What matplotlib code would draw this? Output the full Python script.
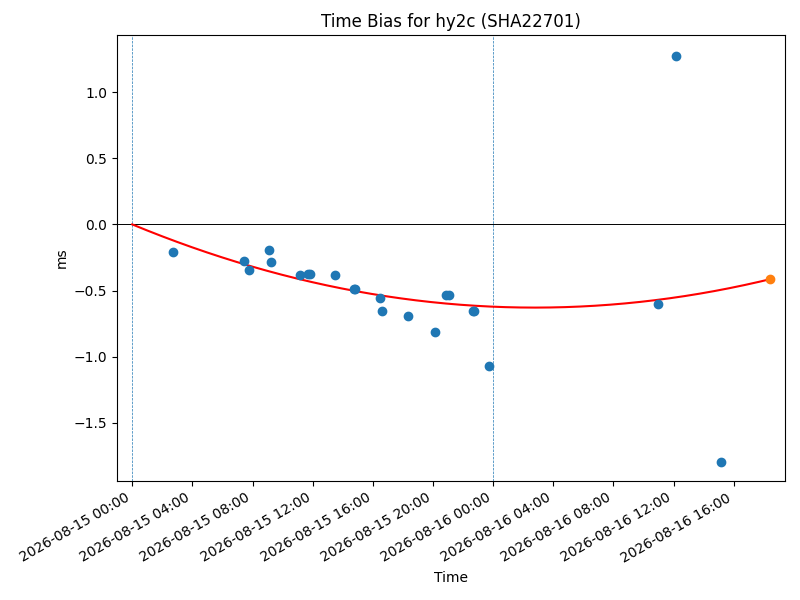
import matplotlib
matplotlib.use("Agg")
import matplotlib.pyplot as plt
import matplotlib.dates as mdates
import numpy as np
import pandas as pd

times = ["2026-08-15 02:42", "2026-08-15 07:24", "2026-08-15 07:46", "2026-08-15 09:07",
         "2026-08-15 09:14", "2026-08-15 11:09", "2026-08-15 11:40", "2026-08-15 11:49",
         "2026-08-15 13:30", "2026-08-15 14:46", "2026-08-15 14:50", "2026-08-15 16:29",
         "2026-08-15 16:36", "2026-08-15 18:21", "2026-08-15 20:09", "2026-08-15 20:51",
         "2026-08-15 21:03", "2026-08-15 22:39", "2026-08-15 22:45", "2026-08-15 23:44",
         "2026-08-16 10:58", "2026-08-16 12:10", "2026-08-16 15:09"]
bias_ms = [-0.207, -0.275, -0.343, -0.197, -0.286, -0.381, -0.373, -0.373,
           -0.386, -0.492, -0.492, -0.553, -0.654, -0.689, -0.811, -0.533,
           -0.533, -0.654, -0.654, -1.070, -0.598, 1.273, -1.795]
pred_time = "2026-08-16 18:25"
fit_start = "2026-08-15 00:00"
fit_coef = [0.000877, -0.04697, 0.0]  # quadratic in hours since fit_start
midnights = ["2026-08-15 00:00", "2026-08-16 00:00"]
xlim = ["2026-08-14 23:00", "2026-08-16 19:24"]

t = pd.to_datetime(times)
t0 = pd.Timestamp(fit_start)
tp = pd.Timestamp(pred_time)
hours = np.linspace(0, (tp - t0).total_seconds() / 3600, 300)
fit_vals = np.polyval(fit_coef, hours)
fit_times = t0 + pd.to_timedelta(hours, unit="h")
pred_val = np.polyval(fit_coef, (tp - t0).total_seconds() / 3600)

fig, ax = plt.subplots(figsize=(8, 6), dpi=100)
ax.axhline(0, color="black", linewidth=0.7)
for m in midnights:
    ax.axvline(pd.Timestamp(m), color="C0", linestyle="--", linewidth=0.5)
ax.scatter(t, bias_ms, color="C0", zorder=3)
ax.plot(fit_times, fit_vals, color="red", zorder=2)
ax.scatter([tp], [pred_val], color="C1", zorder=4)

ax.set_xlim(pd.Timestamp(xlim[0]), pd.Timestamp(xlim[1]))
ax.set_ylim(-1.94, 1.432)
ax.xaxis.set_major_locator(mdates.HourLocator(byhour=range(0, 24, 4)))
ax.xaxis.set_major_formatter(mdates.DateFormatter("%Y-%m-%d %H:%M"))
ax.set_title("Time Bias for hy2c (SHA22701)")
ax.set_xlabel("Time")
ax.set_ylabel("ms")
fig.autofmt_xdate()
fig.subplots_adjust(left=0.1465, right=0.981, top=0.9417, bottom=0.1983)
fig.savefig("out.png")
